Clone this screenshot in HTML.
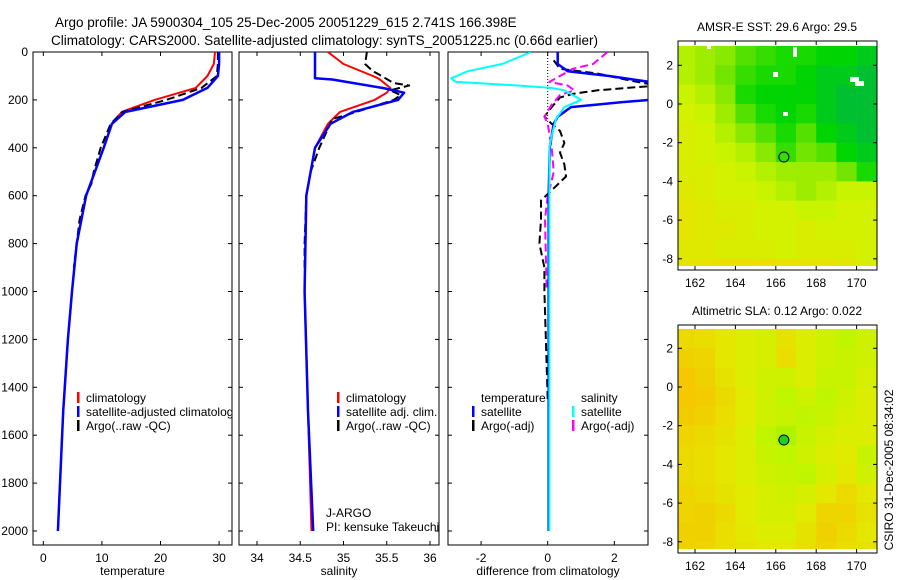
<!DOCTYPE html>
<html><head><meta charset="utf-8"><style>
body{margin:0;background:#fff;}
svg{display:block;font-family:"Liberation Sans",sans-serif;}
text{fill:#000;}
</style></head><body>
<svg id="chart" width="900" height="580" viewBox="0 0 900 580" xmlns="http://www.w3.org/2000/svg">
<text x="55" y="27" font-size="13.5">Argo profile: JA 5900304_105 25-Dec-2005 20051229_615 2.741S 166.398E</text>
<text x="51" y="45" font-size="13.5">Climatology: CARS2000. Satellite-adjusted climatology: synTS_20051225.nc (0.66d earlier)</text>
<g id="g"></g>
</svg>
<script>
// ---------- DATA ----------
const tDepth = [0,50,100,150,200,250,300,400,600,800,1000,1200,1500,2000];
const tClim  = [29.3,29.1,28,26,19,13.4,11.7,10.3,7.3,5.7,4.9,4.2,3.4,2.5];
const tSat   = [30,30,29.8,28,23.8,14,11.7,10.3,7.3,5.7,4.9,4.2,3.4,2.5];
const tArgoDepth = [0,50,100,150,200,250,300,400,500,550,600,700,800,900];
const tArgo  = [29.8,29.8,29.6,27,21,13.5,11.5,9.8,8.6,8.2,7.2,6.2,5.7,5.2];
const sDepth = [0,50,100,110,115,150,170,200,250,300,400,600,1000,1500,2000];
const sClim  = [34.82,35.0,35.34,35.4,35.42,35.54,35.5,35.36,34.96,34.82,34.67,34.57,34.55,34.59,34.63];
const sSat   = [34.67,34.67,34.67,34.67,34.87,35.45,35.7,35.63,35.11,34.85,34.67,34.57,34.55,34.59,34.65];
const sArgoDepth = [0,50,80,100,130,140,160,180,200,250,280,400,500,600,800,900];
const sArgo  = [35.27,35.25,35.34,35.44,35.58,35.76,35.54,35.66,35.58,35.15,34.87,34.72,34.62,34.57,34.55,34.55];
const dDepth = [0,50,80,100,130,200,210,230,270,300,400,600,1000,1500,2000];
const dTempSat = [0.3,0.3,0.6,1.85,3.3,3.05,2.2,0.7,0.3,0.18,0.06,0.03,0.03,0.03,0.03];
const dSalDepth = [0,50,80,110,125,140,150,160,200,230,280,350,400,1000,2000];
const dSalSat = [-0.5,-1.37,-2.4,-2.9,-2.75,-0.9,0.1,0.5,1.0,0.5,0.25,0.12,0.05,0.05,0.05];
const dTArgoDepth = [35,70,90,120,140,160,175,190,230,270,300,330,380,420,470,520,560,620,700,800,900,1000,1450];
const dTempArgo = [0.18,0.37,1.5,2.5,3.3,1.5,0.75,0.37,0.12,-0.1,0.12,0.37,0.5,0.37,0.5,0.55,0.25,-0.2,-0.2,-0.25,-0.1,-0.1,0];
const dSArgoDepth = [0,50,70,100,125,140,160,180,220,270,300,400,500,550,600,700,1000];
const dSalArgo  = [1.8,1.36,0.75,0.37,0.05,0.6,0.8,0.37,0.12,-0.1,0,0.12,0.18,0.1,0,-0.08,-0.03];
const depthTicks = [0,200,400,600,800,1000,1200,1400,1600,1800,2000];
const tTicks = [0,10,20,30];
const sTicks = [34,34.5,35,35.5,36];
const dTicks = [-2,0,2];
const lonTicks = [162,164,166,168,170];
const latTicks = [2,0,-2,-4,-6,-8];
// SST grid rows lat 3..-9 (1deg), cols lon 161..172
const sst = [
[29.2,29.3,29.4,29.6,29.7,29.8,29.8,29.9,29.9,30,30],
[29.2,29.3,29.5,29.7,29.8,29.8,29.9,30,30,30.1,30.1],
[29.1,29.2,29.4,29.8,29.9,29.9,29.9,30,30.1,30.1,30.2],
[29.0,29.1,29.3,29.6,29.8,29.9,29.8,30,30.1,30.1,30.2],
[28.9,29.0,29.2,29.4,29.6,29.8,29.6,29.9,30,30.1,30.1],
[28.9,29.0,29.1,29.2,29.4,29.7,29.5,29.6,29.9,30,30],
[28.9,28.9,29.0,29.1,29.2,29.3,29.3,29.3,29.5,29.8,29.8],
[28.8,28.9,29.0,29.0,29.1,29.2,29.3,29.2,29.1,29.1,29.2],
[28.7,28.8,28.9,28.9,29.0,29.0,29.1,29.1,29.0,29.0,29.1],
[28.7,28.8,28.8,28.9,29.0,29.0,28.9,29.0,29.0,29.0,29.1],
[28.8,28.8,28.9,28.9,28.9,29.0,28.9,28.9,28.9,29.0,29.1],
[28.7,28.7,28.6,28.6,28.6,28.6,28.7,28.7,28.8,28.9,29.0]];
const sla = [
[0.10,0.11,0.13,0.15,0.16,0.12,0.15,0.17,0.19,0.17,0.16],
[0.08,0.09,0.13,0.15,0.16,0.11,0.15,0.17,0.18,0.17,0.15],
[0.06,0.08,0.12,0.15,0.17,0.17,0.15,0.18,0.18,0.16,0.14],
[0.06,0.07,0.10,0.14,0.17,0.19,0.17,0.19,0.17,0.15,0.13],
[0.07,0.08,0.11,0.14,0.17,0.18,0.19,0.18,0.16,0.15,0.14],
[0.09,0.10,0.12,0.15,0.19,0.20,0.18,0.16,0.15,0.15,0.17],
[0.10,0.11,0.13,0.15,0.18,0.19,0.17,0.15,0.14,0.18,0.21],
[0.10,0.11,0.13,0.15,0.17,0.18,0.19,0.16,0.13,0.17,0.20],
[0.09,0.10,0.12,0.14,0.16,0.17,0.16,0.13,0.10,0.13,0.16],
[0.09,0.08,0.10,0.14,0.16,0.16,0.14,0.09,0.09,0.12,0.15],
[0.08,0.08,0.11,0.13,0.15,0.15,0.12,0.08,0.10,0.13,0.14],
[0.08,0.09,0.11,0.12,0.13,0.13,0.11,0.09,0.11,0.12,0.13]];
const argoLon = 166.4, argoLat = -2.74;

// ---------- HELPERS ----------
const NS='http://www.w3.org/2000/svg';
const G=document.getElementById('g');
function el(tag,attrs,parent){const e=document.createElementNS(NS,tag);for(const k in attrs)e.setAttribute(k,attrs[k]);(parent||G).appendChild(e);return e;}
function txt(x,y,s,size,anchor,parent){const t=el('text',{x:x,y:y,'font-size':size||12,'text-anchor':anchor||'middle'},parent);t.textContent=s;return t;}
const top0=52, bot=545;
const yD=d=>top0+d*(531-top0)/2000;

function panel(name,x0,x1,xs,ticks,fmt,label){
  const g=el('g',{});
  
  
  el('rect',{x:x0,y:top0,width:x1-x0,height:bot-top0,fill:'none',stroke:'#000','stroke-width':1},g);
  ticks.forEach(v=>{const x=xs(v);
    el('line',{x1:x,x2:x,y1:bot,y2:bot-4,stroke:'#000'},g);
    el('line',{x1:x,x2:x,y1:top0,y2:top0+4,stroke:'#000'},g);
    const t=txt(x,bot+17,fmt(v),12,'middle',g);
    
    });
  depthTicks.forEach(d=>{const y=yD(d);
    el('line',{x1:x0,x2:x0+4,y1:y,y2:y,stroke:'#000'},g);
    el('line',{x1:x1,x2:x1-4,y1:y,y2:y,stroke:'#000'},g);});
  const l=txt((x0+x1)/2,bot+30,label,12,'middle',g);
  
  
  const cp=el('clipPath',{id:'c'+name},g);
  el('rect',{x:x0,y:top0,width:x1-x0,height:bot-top0},cp);
  const inner=el('g',{'clip-path':'url(#c'+name+')'},g);
  return inner;
}
function line(parent,name,xs,vals,depths,color,w,dash){
  const pts=vals.map((v,i)=>xs(v).toFixed(1)+','+yD(depths[i]).toFixed(1)).join(' ');
  const p=el('polyline',{points:pts,fill:'none',stroke:color,'stroke-width':w,'stroke-dasharray':dash||'none','stroke-linejoin':'round'},parent);
  
  
}
function legend(parent,x,y,items,name){
  const g=el('g',{},parent);
  
  
  items.forEach((it,i)=>{const yy=y+i*14;
    if(it[1]) el('rect',{x:x,y:yy-10,width:2.5,height:11,fill:it[1]},g);
    txt(x+9,yy,it[0],12,'start',g);});
}

depthTicks.forEach(d=>{const t=txt(28,yD(d)+4,String(d),12,'end');
  
  });

// Panel 1 temperature
const xT=v=>43.3+v*5.86;
const p1=panel('temperature-panel',33,232,xT,tTicks,String,'temperature');
line(p1,'temp-climatology-line',xT,tClim,tDepth,'#f00',2);
line(p1,'temp-argo-line',xT,tArgo,tArgoDepth,'#000',2,'8,4');
line(p1,'temp-satellite-line',xT,tSat,tDepth,'#00f',2.5);
legend(p1,77,402,[['climatology','#f00'],['satellite-adjusted climatology','#00f'],['Argo(..raw -QC)','#000']],'temperature-legend');

// Panel 2 salinity
const xS=v=>257+(v-34)*86.5;
const p2=panel('salinity-panel',239,439,xS,sTicks,String,'salinity');
line(p2,'sal-climatology-line',xS,sClim,sDepth,'#f00',2);
line(p2,'sal-argo-line',xS,sArgo,sArgoDepth,'#000',2,'8,4');
line(p2,'sal-satellite-line',xS,sSat,sDepth,'#00f',2.5);
legend(p2,337,402,[['climatology','#f00'],['satellite adj. clim.','#00f'],['Argo(..raw -QC)','#000']],'salinity-legend');
txt(326,517,'J-ARGO',12,'start');
txt(326,531,'PI: kensuke Takeuchi',12,'start');

// Panel 3 differences
const xDf=v=>547.7+v*33.3;
const p3=panel('difference-panel',448,648,xDf,dTicks,String,'difference from climatology');
el('line',{x1:xDf(0),x2:xDf(0),y1:top0,y2:yD(300),stroke:'#000','stroke-dasharray':'1,2'},p3);
line(p3,'diff-temp-argo-line',xDf,dTempArgo,dTArgoDepth,'#000',2,'8,4');
line(p3,'diff-sal-argo-line',xDf,dSalArgo,dSArgoDepth,'#f0f',2,'8,4');
line(p3,'diff-temp-satellite-line',xDf,dTempSat,dDepth,'#00f',2.5);
line(p3,'diff-sal-satellite-line',xDf,dSalSat,dSalDepth,'#0ff',2);
legend(p3,472,402,[['temperature',null],['satellite','#00f'],['Argo(-adj)','#000']],'diff-temp-legend');
legend(p3,572,402,[['salinity',null],['satellite','#0ff'],['Argo(-adj)','#f0f']],'diff-sal-legend');

// ---------- MAPS ----------
function lerp(a,b,t){return a.map((v,i)=>Math.round(v+(b[i]-v)*t));}
function ramp(stops,t){t=Math.max(0,Math.min(1,t));for(let i=1;i<stops.length;i++){if(t<=stops[i][0]){const a=stops[i-1],b=stops[i];return 'rgb('+lerp(a[1],b[1],(t-a[0])/(b[0]-a[0])).join(',')+')';}}return 'rgb('+stops[stops.length-1][1].join(',')+')';}
const sstStops=[[0,[235,225,0]],[0.3,[205,245,0]],[0.55,[120,230,0]],[0.8,[0,215,0]],[1,[0,180,70]]];
const slaStops=[[0,[245,200,0]],[0.5,[225,235,0]],[0.8,[195,245,0]],[1,[140,240,0]]];
function map(name,y0,y1,grid,vmin,vmax,stops,title,markerFill){
  const x0=678,x1=877;
  const lx=lon=>695+(lon-162)*20.2;
  const lat0=(y0===41)?104:387;
  const ly=lat=>lat0-lat*19.35;
  const g=el('g',{});
  
  
  const cp=el('clipPath',{id:'c'+name},g);
  el('rect',{x:x0,y:y0,width:x1-x0,height:y1-y0-4},cp);
  const cells=el('g',{'clip-path':'url(#c'+name+')'},g);
  grid.forEach((row,r)=>row.forEach((v,c)=>{
    const cell=el('rect',{x:lx(161+c),y:ly(3-r),width:20.5,height:19.8,fill:ramp(stops,(v-vmin)/(vmax-vmin))},cells);
    
    
  }));
  el('rect',{x:x0,y:y1-4,width:x1-x0,height:4,fill:'#fff'},g);
  el('rect',{x:x0,y:y0,width:x1-x0,height:y1-y0,fill:'none',stroke:'#000'},g);
  lonTicks.forEach(l=>{const x=lx(l);el('line',{x1:x,x2:x,y1:y1,y2:y1-4,stroke:'#000'},g);el('line',{x1:x,x2:x,y1:y0,y2:y0+4,stroke:'#000'},g);txt(x,y1+17,String(l),12,'middle',g);});
  latTicks.forEach(l=>{const y=ly(l);el('line',{x1:x0,x2:x0+4,y1:y,y2:y,stroke:'#000'},g);el('line',{x1:x1,x2:x1-4,y1:y,y2:y,stroke:'#000'},g);txt(673,y+4,String(l),12,'end',g);});
  const t=txt(777,y0-10,title,12,'middle',g);
  
  
  el('circle',{cx:lx(argoLon),cy:ly(argoLat),r:5,fill:markerFill,stroke:'#000'},g);
}
map('sst-map',41,270,sst,28.6,30.2,sstStops,'AMSR-E SST: 29.6 Argo: 29.5','none');
map('sla-map',325,553,sla,0.06,0.22,slaStops,'Altimetric SLA: 0.12 Argo: 0.022','#20d020');
[[707,44,4,5],[793,47,4,10],[773,72,5,5],[850,77,9,5],[855,81,9,5],[783,112,5,4]].forEach(r=>el('rect',{x:r[0],y:r[1],width:r[2],height:r[3],fill:'#fff'}));
const side=txt(0,0,'CSIRO 31-Dec-2005 08:34:02',12,'middle');
side.setAttribute('transform','translate(893,470) rotate(-90)');


</script>
</body></html>
